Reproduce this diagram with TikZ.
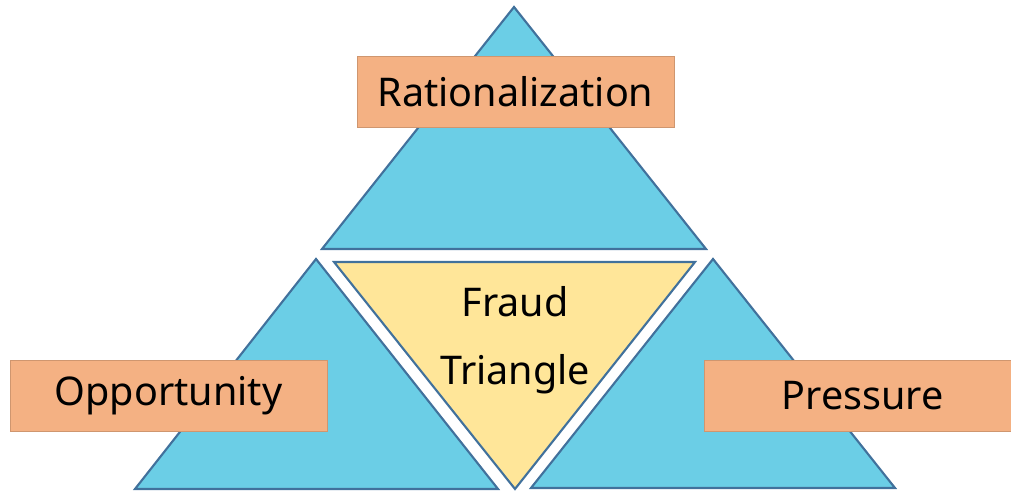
\documentclass[tikz,border=0pt]{standalone}
\usepackage{fontspec}
\setmainfont{Noto Sans}
\usepackage{xcolor}
\definecolor{triblue}{HTML}{6BCEE6}
\definecolor{triedge}{HTML}{41719C}
\definecolor{labelorange}{HTML}{F4B183}
\definecolor{centeryellow}{HTML}{FFE699}

\begin{document}
\begin{tikzpicture}[
    x=0.02cm, y=0.02cm,
    side/.style={draw=triedge, fill=triblue, line width=1.2pt, line join=miter},
    core/.style={draw=triedge, fill=centeryellow, line width=1.2pt, line join=miter},
    tag/.style={draw=labelorange!85!black, line width=0.3pt, fill=labelorange,
        minimum height=1.42cm, inner sep=0pt, font=\fontsize{22.5}{27}\selectfont}
]

\useasboundingbox (0,0) rectangle (1011,492);

% the four triangles
\draw[side] (514,485) -- (706,243) -- (322,243) -- cycle;
\draw[side] (316,233) -- (498,3) -- (135,3) -- cycle;
\draw[core] (334,230) -- (695,230) -- (515,3) -- cycle;
\draw[side] (713,233) -- (895,4) -- (531,4) -- cycle;

% labels
\node[tag, minimum width=6.34cm] (rational) at (515.5,400.5) {Rationalization};
\node[tag, minimum width=6.34cm] (opport) at (168.5,96.5) {Opportunity};
\node[tag, minimum width=6.14cm] (press) at (857.5,96.5) {\hspace{0.2cm}Pressure};

\node[
    align=center,
    font=\fontsize{22.5}{38.5}\selectfont
] (fraud) at (515,152)
{Fraud\\Triangle};

\end{tikzpicture}
\end{document}
